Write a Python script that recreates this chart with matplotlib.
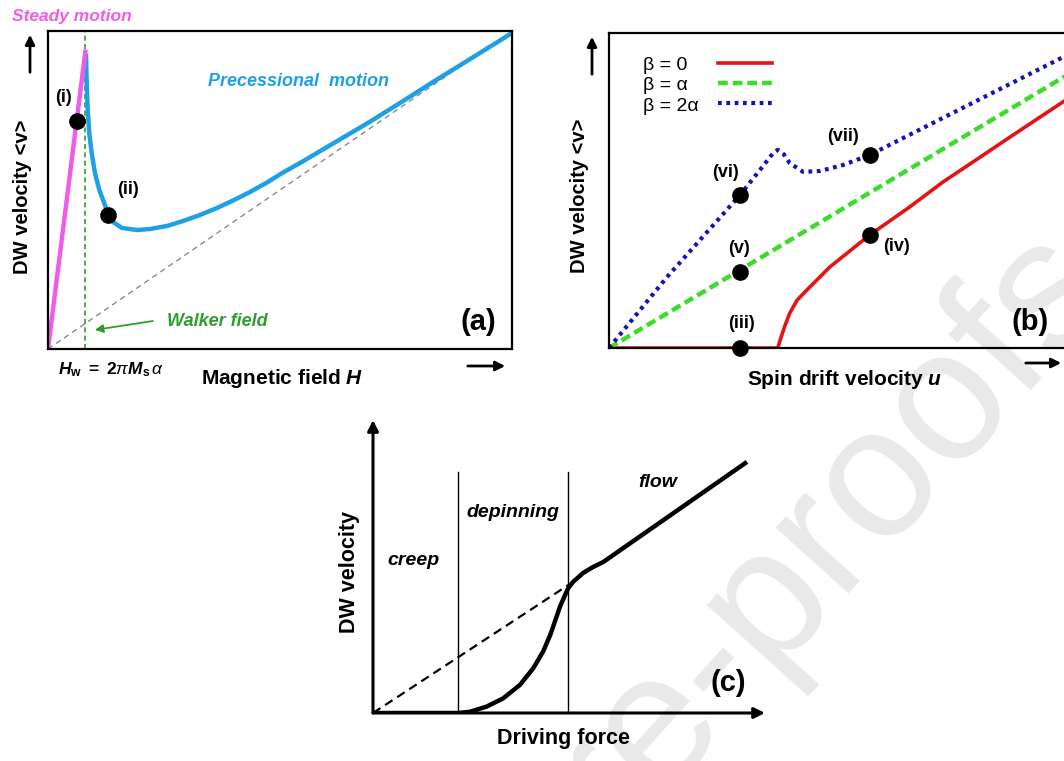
import numpy as np
import matplotlib
matplotlib.use('Agg')
import matplotlib.pyplot as plt

plt.rcParams['font.family'] = ['Liberation Sans', 'DejaVu Sans']
plt.rcParams['mathtext.fontset'] = 'custom'
plt.rcParams['mathtext.rm'] = 'Liberation Sans'
plt.rcParams['mathtext.it'] = 'Liberation Sans:italic'
plt.rcParams['mathtext.bf'] = 'Liberation Sans:bold'
plt.rcParams['mathtext.bfit'] = 'Liberation Sans:bold:italic'

# (a) field driven wall, arbitrary units 0..100
steady_h = [0.0, 8.05]
steady_v = [0.0, 93.5]
prec_h = [8.19, 8.34, 8.56, 8.90, 9.42, 10.13, 11.06, 12.28, 12.93, 14.01, 15.95,
          19.18, 21.98, 25.65, 29.09, 32.76, 36.42, 39.87, 43.53, 47.20, 50.65,
          54.31, 61.42, 68.75, 75.86, 82.97, 90.30, 100.0]
prec_v = [92.45, 83.55, 75.16, 67.83, 61.54, 55.25, 50.0, 45.28, 42.45, 39.94, 38.05,
          37.42, 37.74, 38.68, 40.25, 42.14, 44.34, 46.70, 49.37, 52.36, 55.50,
          58.49, 64.62, 70.91, 77.36, 83.96, 90.57, 99.37]
walker_h = 8.0
ref_h = [0, 100]
ref_v = [0, 100]
pts_a_h = [6.2, 12.93]
pts_a_v = [71.7, 42.2]
pts_a_lab = ['(i)', '(ii)']
lab_a_xy = [(3.3, 79.0), (17.2, 50.0)]

# (b) current driven wall
u_b0 = [0.0, 36.7, 37.2, 38.3, 39.3, 40.9, 42.6, 48.0, 56.7, 65.4, 72.6, 80.7, 87.2, 100.0]
v_b0 = [0.0, 0.0, 2.5, 7.3, 11.1, 15.2, 17.8, 25.7, 35.9, 44.8, 52.7, 60.6, 67.0, 79.4]
u_b1 = [0.0, 100.0]
v_b1 = [0.0, 87.0]
u_b2 = [0.0, 12.6, 28.5, 32.8, 35.7, 36.7, 38.0, 39.3, 42.2, 45.9, 50.9, 56.7, 100.0]
v_b2 = [0.0, 22.5, 48.6, 56.5, 61.9, 62.9, 61.5, 58.7, 55.9, 56.2, 58.1, 61.3, 93.3]
beta_labels = ['\u03b2 = 0', '\u03b2 = \u03b1', '\u03b2 = 2\u03b1']
pts_b_u = [28.5, 28.5, 28.5, 56.7, 56.7]
pts_b_v = [0.0, 24.1, 48.6, 61.3, 35.9]
pts_b_lab = ['(iii)', '(v)', '(vi)', '(vii)', '(iv)']
lab_b_xy = [(28.7, 7.9), (28.3, 31.7), (25.4, 55.6), (50.9, 67.0), (62.4, 32.1)]

# (c) creep / depinning / flow
f_c = [0, 21.6, 24.7, 29.0, 33.2, 37.5, 40.9, 43.4, 45.2, 46.4, 47.7, 49.0, 49.8,
       51.0, 53.6, 56.1, 58.7, 95.4]
v_c = [0, 0, 0.4, 2.2, 5.0, 9.6, 15.3, 21.0, 26.6, 31.2, 36.3, 40.3, 42.6,
       44.7, 47.8, 49.8, 51.5, 85.7]
flow_f = [0, 51.0]
flow_v = [0, 44.7]
bounds_c = [21.7, 49.7]
bound_top = 82.3

W, H = 1064, 761
fig = plt.figure(figsize=(W / 100, H / 100), dpi=100)


def fpos(x0, y0, x1, y1):
    return [x0 / W, 1 - y1 / H, (x1 - x0) / W, (y1 - y0) / H]


def fxy(x, y):
    return (x / W, 1 - y / H)


def arrow(p0, p1):
    fig.add_artist(matplotlib.patches.FancyArrowPatch(
        fxy(*p0), fxy(*p1), transform=fig.transFigure, arrowstyle='-|>',
        mutation_scale=14, lw=2, color='k'))


bold = dict(fontweight='bold')
bi = dict(fontweight='bold', fontstyle='italic')

# watermark
fig.text(1082 / W, 1 - 262 / H, 'Journal Pre-proofs', fontsize=134, color='#e9e9e9',
         rotation=48, rotation_mode='anchor', ha='right', va='center', zorder=-10)

# ---------- (a)
ax = fig.add_axes(fpos(48, 31, 512, 349))
ax.patch.set_alpha(0)
ax.plot(ref_h, ref_v, ls=(0, (4, 3)), color='#8a8a8a', lw=1)
ax.axvline(walker_h, color='#2e9e2e', ls=(0, (3, 2)), lw=1.2)
ax.plot(prec_h, prec_v, color='#1ea0e6', lw=3.2, solid_capstyle='round',
        solid_joinstyle='round')
ax.plot(steady_h, steady_v, color='#ee5ce8', lw=3.2)
ax.plot(pts_a_h, pts_a_v, 'o', color='k', ms=11, zorder=5)
for s, (x, y) in zip(pts_a_lab, lab_a_xy):
    ax.text(x, y, s, ha='center', va='center', fontsize=13, **bold)
ax.set_xlim(0, 100)
ax.set_ylim(0, 100)
ax.set_xticks([])
ax.set_yticks([])
for sp in ax.spines.values():
    sp.set_linewidth(1.6)
ax.set_ylabel('DW velocity <v>', fontsize=14.5, **bold)
ax.yaxis.set_label_coords(-0.034, 0.48)
ax.set_xlabel(r'Magnetic field $\mathbfit{H}$', fontsize=15, **bold)
ax.xaxis.set_label_coords(0.505, -0.058)
ax.text(0.136, -0.066, r'$\mathbfit{H}_\mathbf{w}\mathbf{\ =\ 2}\pi\mathbfit{M}_\mathbf{s}\,\alpha$',
        transform=ax.transAxes, ha='center', va='center', fontsize=12.5)
ax.text(299 / W, 1 - 81 / H, 'Precessional  motion', transform=fig.transFigure,
        color='#1ea0e6', fontsize=13, ha='center', va='center', **bi)
fig.text(72 / W, 1 - 17 / H, 'Steady motion', color='#ee5ce8', fontsize=12.5,
         ha='center', va='center', **bi)
ax.text(36.4, 8.5, 'Walker field', color='#2e9e2e', fontsize=13, ha='center',
        va='center', **bi)
ax.annotate('', xy=(10.1, 6.0), xytext=(22.6, 8.8),
            arrowprops=dict(arrowstyle='-|>', color='#2e9e2e', lw=1.3,
                            mutation_scale=12, shrinkA=0, shrinkB=0))
ax.text(0.928, 0.085, '(a)', transform=ax.transAxes, fontsize=21, ha='center',
        va='center', **bold)
arrow((30, 75), (30, 32))
arrow((465, 366), (508, 366))

# ---------- (b)
bx = fig.add_axes(fpos(609, 33, 1069, 348))
bx.patch.set_alpha(0)
l0, = bx.plot(u_b0, v_b0, color='#e41414', lw=2.6)
l1, = bx.plot(u_b1, v_b1, color='#3ddc2a', lw=3.2, ls=(0, (2.2, 1.1)))
l2, = bx.plot(u_b2, v_b2, color='#1414b4', lw=3, ls=(0, (0.9, 1.1)))
bx.plot(pts_b_u, pts_b_v, 'o', color='k', ms=11, zorder=5, clip_on=False)
for s, (x, y) in zip(pts_b_lab, lab_b_xy):
    bx.text(x, y, s, ha='center', va='center', fontsize=13, **bold)
bx.legend([l0, l1, l2], ['', '', ''], loc='center left', bbox_to_anchor=(0.237, 0.835),
          frameon=False, handlelength=3.0, handletextpad=0, labelspacing=0.17,
          borderpad=0, borderaxespad=0, fontsize=13)
for k, s in enumerate(beta_labels):
    bx.text(0.074, 0.898 - 0.065 * k, s, transform=bx.transAxes, fontsize=14,
            ha='left', va='center')
bx.text(91.5, 8.3, '(b)', fontsize=21, ha='center', va='center', **bold)
bx.set_xlim(0, 100)
bx.set_ylim(0, 100)
bx.set_xticks([])
bx.set_yticks([])
for sp in bx.spines.values():
    sp.set_linewidth(1.6)
bx.set_ylabel('DW velocity <v>', fontsize=14.5, **bold)
bx.yaxis.set_label_coords(-0.043, 0.483)
bx.set_xlabel(r'Spin drift velocity $\mathbfit{u}$', fontsize=15, **bold)
bx.xaxis.set_label_coords(0.513, -0.062)
arrow((592, 77), (592, 34))
arrow((1023, 363), (1064, 363))

# ---------- (c)
cx = fig.add_axes(fpos(373, 420, 765, 713))
cx.patch.set_alpha(0)
cx.plot(flow_f, flow_v, color='k', lw=1.6, ls=(0, (4, 2.5)))
cx.plot(f_c, v_c, color='k', lw=3.2, solid_capstyle='butt', solid_joinstyle='round')
for b in bounds_c:
    cx.plot([b, b], [0, bound_top], color='k', lw=1)
cx.set_xlim(0, 100)
cx.set_ylim(0, 100)
cx.set_xticks([])
cx.set_yticks([])
for sp in cx.spines.values():
    sp.set_visible(False)
for tip in [(1, 0), (0, 1)]:
    cx.annotate('', xy=tip, xytext=(0, 0), xycoords='axes fraction',
                arrowprops=dict(arrowstyle='-|>', lw=2.2, color='k', mutation_scale=16,
                                shrinkA=0, shrinkB=0))
cx.text(10.2, 52.2, 'creep', fontsize=14, ha='center', va='center', **bi)
cx.text(35.7, 68.3, 'depinning', fontsize=14, ha='center', va='center', **bi)
cx.text(72.7, 78.8, 'flow', fontsize=14, ha='center', va='center', **bi)
cx.text(90.6, 10.2, '(c)', fontsize=21, ha='center', va='center', **bold)
cx.set_ylabel('DW velocity', fontsize=15.5, **bold)
cx.yaxis.set_label_coords(-0.033, 0.48)
cx.set_xlabel('Driving force', fontsize=15.5, **bold)
cx.xaxis.set_label_coords(0.485, -0.05)

fig.savefig('out.png', dpi=100)
